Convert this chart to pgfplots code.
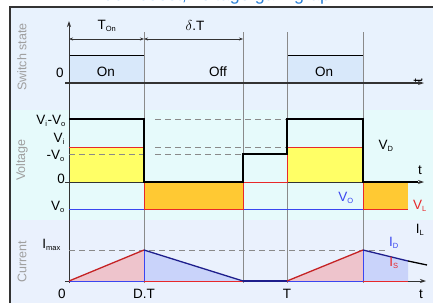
\documentclass[border=0pt]{standalone}
\usepackage{pgfplots}
\pgfplotsset{compat=1.18}
\usepackage{fontspec}
\setmainfont{Liberation Sans}
\usetikzlibrary{arrows.meta}
\definecolor{bgA}{HTML}{E8F2FD}
\definecolor{bgB}{HTML}{E6FAFB}
\definecolor{bgC}{HTML}{EAF1FD}
\definecolor{onfill}{HTML}{D8E8FA}
\definecolor{yel}{HTML}{FFFF66}
\definecolor{org}{HTML}{FFC933}
\definecolor{pinkf}{HTML}{EEC4CC}
\definecolor{lavf}{HTML}{C9D3FA}
\definecolor{rl}{HTML}{E8282A}
\definecolor{bl}{HTML}{3A46F0}
\definecolor{nav}{HTML}{1E1E8C}
\definecolor{gl}{HTML}{8A8A8A}
\definecolor{ttl}{HTML}{2A7FD4}
\definecolor{axc}{HTML}{333333}
\newcommand{\sub}[1]{\textsubscript{\fontsize{7.5}{7.5}\selectfont #1}}
\tikzset{L/.style={font=\fontsize{13.5}{13.5}\selectfont, inner sep=1pt}}
\begin{document}
\begin{tikzpicture}
\begin{axis}[at={(0,0)}, anchor=south west, width=433pt, height=303pt, scale only axis,
  xmin=0, xmax=433, ymin=0, ymax=303, y dir=reverse, axis lines=none, clip=false]
% backgrounds
\addplot[fill=bgA, draw=none] coordinates {(10,7) (433,7) (433,110) (10,110)} --cycle;
\addplot[fill=bgB, draw=none] coordinates {(10,110) (433,110) (433,220) (10,220)} --cycle;
\addplot[fill=bgC, draw=none] coordinates {(10,220) (433,220) (433,303) (10,303)} --cycle;
% frame
\addplot[axc, line width=1.3pt] coordinates {(10,303) (10,7) (433,7)};
% title (cut off)
\node[text=ttl, anchor=base, font=\fontsize{18}{18}\selectfont] at (axis cs:216,0) {Buck-boost, voltage gain graph};
% switch panel
\addplot[fill=onfill, draw=black, line width=0.8pt] coordinates {(69,83) (69,55) (144,55) (144,83)};
\addplot[fill=onfill, draw=black, line width=0.8pt] coordinates {(287,83) (287,55) (363,55) (363,83)};
% grid verticals
\addplot[gl, line width=0.6pt] coordinates {(144,32) (144,283)};
\addplot[gl, line width=0.6pt] coordinates {(243,32) (243,283)};
\addplot[gl, line width=0.6pt] coordinates {(287,32) (287,283)};
\addplot[gl, line width=0.6pt] coordinates {(363,32) (363,283)};
% voltage fills
\addplot[fill=yel, draw=none] coordinates {(69,147) (144,147) (144,182) (69,182)} --cycle;
\addplot[fill=yel, draw=none] coordinates {(287,147) (363,147) (363,182) (287,182)} --cycle;
\addplot[fill=org, draw=none] coordinates {(144,182) (243,182) (243,209) (144,209)} --cycle;
\addplot[fill=org, draw=none] coordinates {(363,182) (408,182) (408,209) (363,209)} --cycle;
% current fills
\addplot[fill=pinkf, draw=none] coordinates {(69,281) (144,250) (144,281)} --cycle;
\addplot[fill=pinkf, draw=none] coordinates {(287,281) (363,250) (363,281)} --cycle;
\addplot[fill=lavf, draw=none] coordinates {(144,250) (243,281) (144,281)} --cycle;
\addplot[fill=lavf, draw=none] coordinates {(363,250) (408,261) (408,281) (363,281)} --cycle;
% y axis
\addplot[axc, line width=0.8pt, -{Stealth[length=6pt,width=4pt]}] coordinates {(69,283) (69,21)};
% switch baseline
\addplot[axc, line width=1.1pt, -{Stealth[length=6pt,width=4pt]}] coordinates {(65,83) (424,83)};
% dimension arrows
\addplot[axc, line width=0.6pt, {Stealth[length=4pt,width=3pt]}-{Stealth[length=4pt,width=3pt]}] coordinates {(69,39) (144,39)};
\addplot[axc, line width=0.6pt, {Stealth[length=4pt,width=3pt]}-{Stealth[length=4pt,width=3pt]}] coordinates {(144,39) (243,39)};
% dashed levels
\addplot[gl, line width=0.7pt, dash pattern=on 6pt off 4pt] coordinates {(155,119) (287,119)};
\addplot[gl, line width=0.7pt, dash pattern=on 6pt off 4pt] coordinates {(155,147) (287,147)};
\addplot[gl, line width=0.7pt, dash pattern=on 6pt off 4pt] coordinates {(155,154) (243,154)};
\addplot[gl, line width=0.7pt, dash pattern=on 6pt off 4pt] coordinates {(69,154) (144,154)};
\addplot[gl, line width=0.7pt, dash pattern=on 6pt off 4pt] coordinates {(69,250) (385,250)};
% voltage zero axis
\addplot[axc, line width=0.8pt, -{Stealth[length=6pt,width=4pt]}] coordinates {(65,182) (424,182)};
% Vo
\addplot[bl, line width=1pt] coordinates {(69,209) (408,209)};
% VL
\addplot[rl, line width=1pt] coordinates {(69,147) (144,147) (144,209) (243,209) (243,182) (287,182) (287,147) (363,147) (363,209) (408,209)};
% VD
\addplot[black, line width=1.4pt] coordinates {(69,119) (144,119) (144,182) (243,182) (243,154) (287,154) (287,119) (363,119) (363,182) (418,182)};
% current axis
\addplot[axc, line width=0.8pt, -{Stealth[length=6pt,width=4pt]}] coordinates {(65,281) (426,281)};
\addplot[bl, line width=0.8pt] coordinates {(69,281) (144,281)};
\addplot[rl, line width=0.8pt] coordinates {(144,281) (243,281)};
\addplot[bl, line width=0.8pt] coordinates {(287,281) (363,281)};
\addplot[rl, line width=0.8pt] coordinates {(363,281) (408,281)};
\addplot[bl, line width=0.9pt] coordinates {(144,250) (144,281)};
\addplot[bl, line width=0.9pt] coordinates {(363,250) (363,281)};
\addplot[nav, line width=1.3pt] coordinates {(243,281) (287,281)};
\addplot[rl!85!black, line width=1.3pt] coordinates {(69,281) (144,250)};
\addplot[rl!85!black, line width=1.3pt] coordinates {(287,281) (363,250)};
\addplot[nav, line width=1.3pt] coordinates {(144,250) (243,281)};
\addplot[nav, line width=1.3pt] coordinates {(363,250) (408,261)};
\addplot[black, line width=1.3pt] coordinates {(408,261) (427,265)};
% gray panel titles
\node[rotate=90, text=gray!75, font=\fontsize{12.5}{12.5}\selectfont] at (axis cs:22,57) {Switch state};
\node[rotate=90, text=gray!75, font=\fontsize{12.5}{12.5}\selectfont] at (axis cs:22,160) {Voltage};
\node[rotate=90, text=gray!75, font=\fontsize{12.5}{12.5}\selectfont] at (axis cs:22,262) {Current};
% switch labels
\node[L] at (axis cs:60,73) {0};
\node[L] at (axis cs:106,72) {On};
\node[L] at (axis cs:218,72) {Off};
\node[L] at (axis cs:324,72) {On};
\node[L, rotate=90] at (axis cs:418,81) {t};
\node[L] at (axis cs:107,26) {T\sub{On}};
\node[L] at (axis cs:195,25) {$\delta$.T};
% voltage labels
\node[L, anchor=east] at (axis cs:67,121) {V\sub{i}-V\sub{o}};
\node[L, anchor=east] at (axis cs:66,139) {V\sub{i}};
\node[L, anchor=east] at (axis cs:66,156) {-V\sub{o}};
\node[L, anchor=east] at (axis cs:66,179) {0};
\node[L, anchor=east] at (axis cs:66,207) {V\sub{o}};
\node[L] at (axis cs:386,146) {V\sub{D}};
\node[L, text=bl] at (axis cs:346,198) {V\sub{O}};
\node[L, text=rl] at (axis cs:420,206) {V\sub{L}};
\node[L] at (axis cs:420,170) {t};
% current labels
\node[L, anchor=east] at (axis cs:62,245) {I\sub{max}};
\node[L] at (axis cs:420,230) {I\sub{L}};
\node[L, text=bl] at (axis cs:394,243) {I\sub{D}};
\node[L, text=rl] at (axis cs:394,263) {I\sub{S}};
\node[L] at (axis cs:62,294) {0};
\node[L] at (axis cs:144,294) {D.T};
\node[L] at (axis cs:287,294) {T};
\node[L] at (axis cs:421,294) {t};
\end{axis}
\pgfresetboundingbox
\path (0,0) rectangle (433pt,303pt);
\end{tikzpicture}
\end{document}
